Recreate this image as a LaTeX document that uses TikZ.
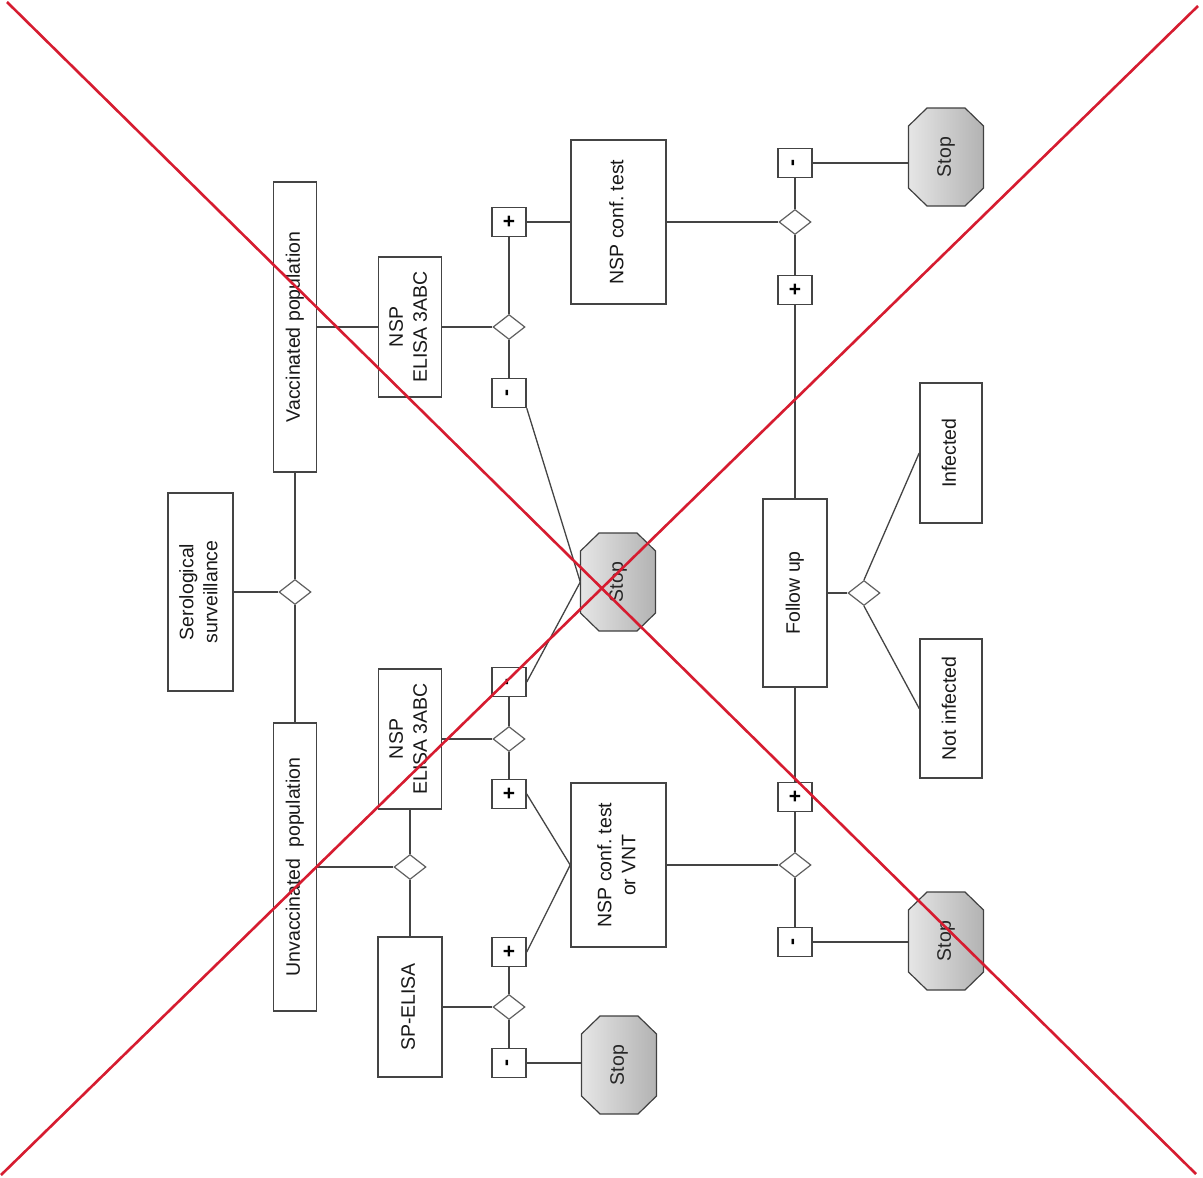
\documentclass[tikz,border=0pt]{standalone}
\usepackage{fontspec}
\setmainfont{Liberation Sans}
\usetikzlibrary{shapes.geometric}
\definecolor{redx}{RGB}{214,28,48}
\definecolor{linec}{RGB}{68,68,68}
\tikzset{
  box/.style={draw=linec, line width=1.6pt, fill=white, inner sep=0pt,
    font=\fontsize{19.5}{24}\selectfont, text=black!90},
  dia/.style={diamond, draw=linec!85, line width=1.2pt, fill=white,
    minimum width=32pt, minimum height=25pt, inner sep=0pt},
  sign/.style={draw=linec, line width=1.5pt, fill=white, minimum width=34pt,
    minimum height=29pt, inner sep=0pt, font=\fontsize{21}{21}\selectfont\bfseries},
  conn/.style={draw=linec, line width=1.3pt},
  redline/.style={draw=redx, line width=2.6pt},
  stoptext/.style={inner sep=0pt, minimum width=75pt, minimum height=98pt,
    font=\fontsize{19.5}{24}\selectfont, text=black!85},
}
\newcommand{\rt}[1]{\rotatebox{90}{\begin{tabular}{@{}c@{}}#1\end{tabular}}}
\newcommand{\stopsign}[3]{%
  \begin{scope}[shift={(#2,#3)}]
    \shadedraw[left color=gray!20, right color=gray!60, draw=gray!50!black, line width=1.2pt]
      (-19,-49) -- (19,-49) -- (37.5,-31) -- (37.5,31) -- (19,49) -- (-19,49)
      -- (-37.5,31) -- (-37.5,-31) -- cycle;
  \end{scope}
  \node[stoptext] (#1) at (#2,#3) {\rotatebox{90}{Stop}};
}
\begin{document}
\begin{tikzpicture}[x=1pt,y=-1pt]
\fill[white] (0,0) rectangle (1203,1178);
\useasboundingbox (0,0) rectangle (1203,1178);

% boxes
\node[box, minimum width=65pt, minimum height=198pt] (ser) at (200.5,592) {\rt{Serological\\surveillance}};
\node[box, minimum width=43pt, minimum height=290pt] (vac) at (295,327) {\rt{Vaccinated population}};
\node[box, minimum width=43pt, minimum height=288pt] (unv) at (295,867) {\rt{Unvaccinated\ \ population}};
\node[box, minimum width=63pt, minimum height=140pt] (nspT) at (410,327) {\rt{NSP\\ELISA 3ABC}};
\node[box, minimum width=63pt, minimum height=140pt] (nspB) at (410,739) {\rt{NSP\\ELISA 3ABC}};
\node[box, minimum width=64pt, minimum height=140pt] (sp) at (410,1007) {\rt{SP-ELISA}};
\node[box, minimum width=95pt, minimum height=164pt] (ct) at (618.5,222) {\rt{NSP conf.\ test}};
\node[box, minimum width=95pt, minimum height=164pt] (cvnt) at (618.5,865) {\rt{NSP conf.\ test\\or VNT}};
\node[box, minimum width=64pt, minimum height=188pt] (fu) at (795,593) {\rt{Follow up}};
\node[box, minimum width=62pt, minimum height=140pt] (inf) at (951,453) {\rt{Infected}};
\node[box, minimum width=62pt, minimum height=139pt] (ninf) at (951,708.5) {\rt{Not infected}};

% diamonds
\node[dia] (d0) at (295,592) {};
\node[dia] (d1) at (509,327) {};
\node[dia] (d2) at (509,739) {};
\node[dia] (d3) at (410,867) {};
\node[dia] (d4) at (509,1007) {};
\node[dia] (d5) at (795,222) {};
\node[dia] (d6) at (795,865) {};
\node[dia] (d7) at (864,593) {};

% sign boxes
\node[sign] (p1) at (509,222) {+};
\node[sign] (m1) at (509,393) {\rotatebox{90}{-}};
\node[sign] (m2) at (509,682) {\rotatebox{90}{-}};
\node[sign] (p2) at (509,794) {+};
\node[sign] (p3) at (509,952) {+};
\node[sign] (m3) at (509,1063) {\rotatebox{90}{-}};
\node[sign] (m4) at (795,163) {\rotatebox{90}{-}};
\node[sign] (p4) at (795,290) {+};
\node[sign] (p5) at (795,797) {+};
\node[sign] (m5) at (795,942) {\rotatebox{90}{-}};

% stop signs
\stopsign{s1}{946}{157}
\stopsign{s2}{618}{582}
\stopsign{s3}{619}{1065}
\stopsign{s4}{946}{941}

% connectors
\draw[conn] (ser.east) -- (d0.west);
\draw[conn] (d0.north) -- (vac.south);
\draw[conn] (d0.south) -- (unv.north);
\draw[conn] (vac.east) -- (nspT.west);
\draw[conn] (nspT.east) -- (d1.west);
\draw[conn] (d1.north) -- (p1.south);
\draw[conn] (p1.east) -- (ct.west);
\draw[conn] (d1.south) -- (m1.north);
\draw[conn] (m1.south east) -- (s2.west);
\draw[conn] (unv.east) -- (d3.west);
\draw[conn] (d3.north) -- (nspB.south);
\draw[conn] (d3.south) -- (sp.north);
\draw[conn] (nspB.east) -- (d2.west);
\draw[conn] (d2.north) -- (m2.south);
\draw[conn] (d2.south) -- (p2.north);
\draw[conn] (m2.east) -- (s2.west);
\draw[conn] (p2.east) -- (cvnt.west);
\draw[conn] (sp.east) -- (d4.west);
\draw[conn] (d4.north) -- (p3.south);
\draw[conn] (d4.south) -- (m3.north);
\draw[conn] (p3.east) -- (cvnt.west);
\draw[conn] (m3.east) -- (m3.east -| s3.west);
\draw[conn] (cvnt.east) -- (d6.west);
\draw[conn] (d6.north) -- (p5.south);
\draw[conn] (p5.north) -- (fu.south);
\draw[conn] (d6.south) -- (m5.north);
\draw[conn] (m5.east) -- (m5.east -| s4.west);
\draw[conn] (ct.east) -- (d5.west);
\draw[conn] (d5.north) -- (m4.south);
\draw[conn] (m4.east) -- (m4.east -| s1.west);
\draw[conn] (d5.south) -- (p4.north);
\draw[conn] (p4.south) -- (fu.north);
\draw[conn] (fu.east) -- (d7.west);
\draw[conn] (d7.north) -- (inf.west);
\draw[conn] (d7.south) -- (ninf.west);

% red cross
\coordinate (r1a) at (7,2);
\coordinate (r1b) at (1196,1174);
\coordinate (r2a) at (1,1175);
\coordinate (r2b) at (1198,6);
\draw[redline] (r1a) -- (r1b);
\draw[redline] (r2a) -- (r2b);
\end{tikzpicture}
\end{document}
